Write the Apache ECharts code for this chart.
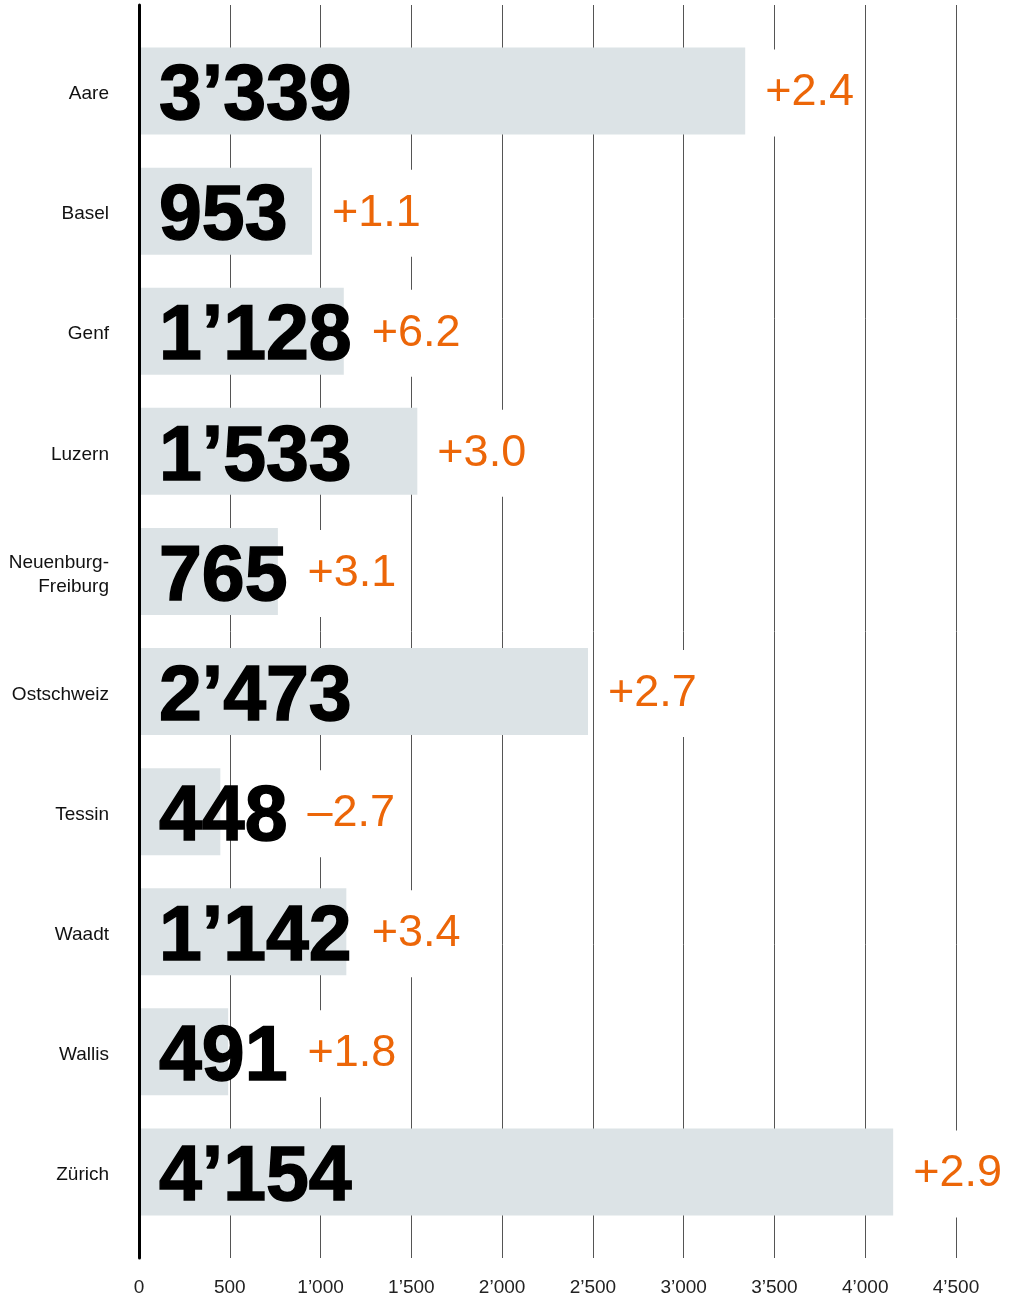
<!DOCTYPE html>
<html>
<head>
<meta charset="utf-8">
<script src="https://cdn.jsdelivr.net/npm/echarts@6/dist/echarts.min.js"></script>
<style>
  html, body { margin: 0; padding: 0; background: #fff; }
  #chart { width: 1017px; height: 1299px; }
</style>
</head>
<body>
<div id="chart"></div>
<script>
const regions = ['Aare', 'Basel', 'Genf', 'Luzern', 'Neuenburg-\nFreiburg', 'Ostschweiz', 'Tessin', 'Waadt', 'Wallis', 'Zürich']
const totals = [3339, 953, 1128, 1533, 765, 2473, 448, 1142, 491, 4154]
const changes = [2.4, 1.1, 6.2, 3.0, 3.1, 2.7, -2.7, 3.4, 1.8, 2.9]
const xTicks = [0, 500, 1000, 1500, 2000, 2500, 3000, 3500, 4000, 4500]

const barColor = '#dce3e6'
const orange = '#ec6608'
const bigFont = 'bold 77px "Liberation Sans", Arial, sans-serif'
const smallFont = '45px "Liberation Sans", Arial, sans-serif'

function fmt(v) {
  return String(v).replace(/\B(?=(\d{3})+(?!\d))/g, '’')
}
function fmtChange(v) {
  return (v >= 0 ? '+' : '–') + Math.abs(v).toFixed(1)
}

const ctx = document.createElement('canvas').getContext('2d')
function textWidth(text, font) {
  ctx.font = font
  return ctx.measureText(text).width
}

const chart = echarts.init(document.getElementById('chart'))

const option = {
  animation: false,
  grid: [
    { left: 139, right: 61, top: 5, bottom: 41 },
    { left: 139, right: 61, top: 31, height: 1201 }
  ],
  xAxis: [{
    gridIndex: 0,
    type: 'value',
    min: xTicks[0],
    max: xTicks[xTicks.length - 1],
    interval: 500,
    axisLine: { show: false },
    axisTick: { show: false },
    splitLine: { show: true, lineStyle: { color: '#555', width: 1 } },
    axisLabel: {
      color: '#222',
      fontSize: 19,
      fontFamily: '"Liberation Sans", Arial, sans-serif',
      margin: 20,
      formatter: v => fmt(v)
    }
  }, {
    gridIndex: 1,
    type: 'value',
    min: xTicks[0],
    max: xTicks[xTicks.length - 1],
    show: false
  }],
  yAxis: [{
    gridIndex: 0,
    type: 'value',
    min: 0,
    max: 1,
    z: 10,
    axisLine: { show: true, lineStyle: { color: '#000', width: 3 } },
    axisTick: { show: false },
    axisLabel: { show: false },
    splitLine: { show: false }
  }, {
    gridIndex: 1,
    type: 'category',
    inverse: true,
    data: regions,
    axisLine: { show: false },
    axisTick: { show: false },
    axisLabel: {
      color: '#111',
      fontSize: 19,
      fontFamily: '"Liberation Sans", Arial, sans-serif',
      margin: 30,
      align: 'right',
      formatter: v => v.split('\n').map(s => '{a|' + s + '}').join('\n'),
      rich: {
        a: {
          color: '#111',
          fontSize: 19,
          fontFamily: '"Liberation Sans", Arial, sans-serif',
          lineHeight: 24,
          padding: [6, 0, 0, 0]
        }
      }
    }
  }],
  series: [{
    type: 'bar',
    xAxisIndex: 1,
    yAxisIndex: 1,
    data: totals,
    barWidth: 87,
    itemStyle: { color: barColor },
    label: {
      show: true,
      position: 'insideLeft',
      distance: 20,
      offset: [0, 7],
      color: '#000',
      fontSize: 77,
      fontWeight: 'bold',
      fontFamily: '"Liberation Sans", Arial, sans-serif',
      textBorderColor: '#000',
      textBorderWidth: 1.5,
      formatter: p => fmt(p.value)
    },
    z: 3
  }, {
    type: 'custom',
    xAxisIndex: 1,
    yAxisIndex: 1,
    data: totals.map((t, i) => [t, i, changes[i]]),
    encode: { x: 0, y: 1 },
    z: 4,
    renderItem(params, api) {
      const idx = api.value(1)
      const start = api.coord([0, idx])
      const end = api.coord([api.value(0), idx])
      const w = textWidth(fmt(api.value(0)), bigFont)
      const x = Math.max(end[0], start[0] + 20 + w) + 14
      return {
        type: 'text',
        x: x,
        y: end[1] + 2,
        style: {
          text: fmtChange(api.value(2)),
          fill: orange,
          font: smallFont,
          verticalAlign: 'middle',
          align: 'left',
          lineHeight: 87,
          backgroundColor: '#fff',
          padding: [0, 6]
        }
      }
    }
  }]
}

chart.setOption(option)
</script>
</body>
</html>
